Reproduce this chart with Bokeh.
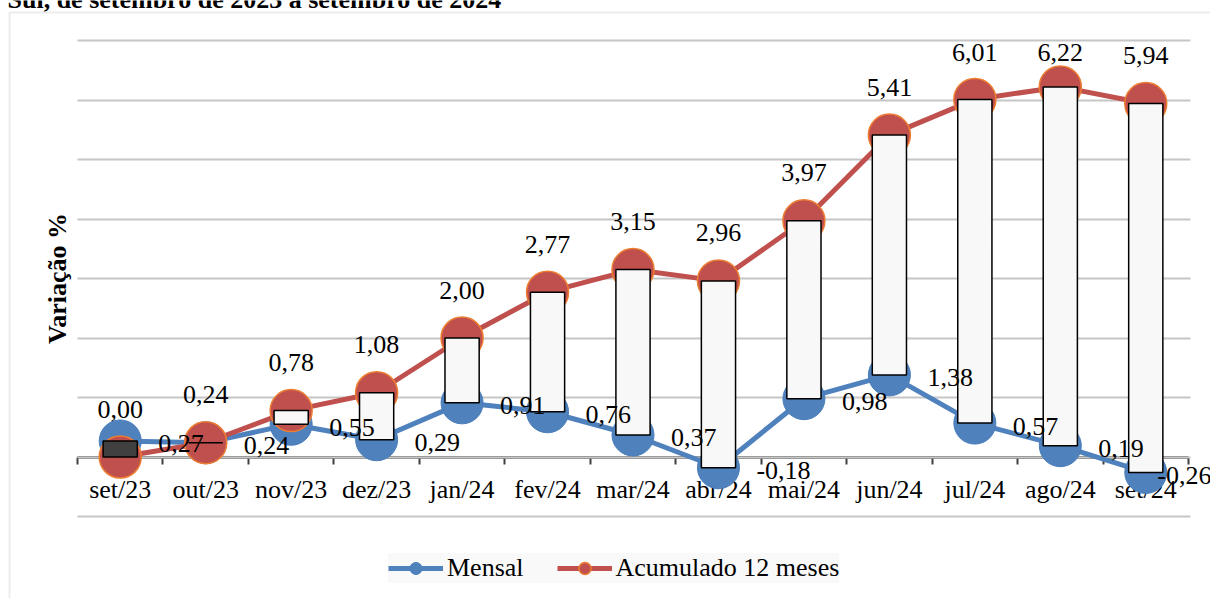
import math
from bokeh.plotting import figure
from bokeh.models import (ColumnDataSource, Range1d, LinearAxis, FixedTicker, LabelSet,
                          Label, Legend, LegendItem, BoxAnnotation)
from bokeh.core.properties import value
from bokeh.embed import file_html
from bokeh.resources import INLINE

# ---- data ----
categories = ["set/23", "out/23", "nov/23", "dez/23", "jan/24", "fev/24", "mar/24",
              "abr/24", "mai/24", "jun/24", "jul/24", "ago/24", "set/24"]
mensal = [0.27, 0.24, 0.55, 0.29, 0.91, 0.76, 0.37, -0.18, 0.98, 1.38, 0.57, 0.19, -0.26]
acumulado = [0.00, 0.24, 0.78, 1.08, 2.00, 2.77, 3.15, 2.96, 3.97, 5.41, 6.01, 6.22, 5.94]
y_ticks = [-1, 0, 1, 2, 3, 4, 5, 6, 7]
series_names = ["Mensal", "Acumulado 12 meses"]
title_text = "Sul, de setembro de 2023 a setembro de 2024"
y_label = "Variação %"

# ---- style / layout ----
FONT = "Liberation Serif"
FS = 26
BLUE = "#4f81bd"
RED = "#c0504d"
RED_EDGE = "#ed7d31"
GRID = "#c6c6c6"
AXIS = "#404040"
W, H = 1210, 598
PL, PR = 77, 1188            # plot-area left / right (px)
PT, PB = 40, 516             # pixel rows of the top / bottom gridlines

n = len(categories)
xc = list(range(n))
bounds = [i - 0.5 for i in range(n + 1)]
px_cat = (PR - PL) / n
px_unit = (PB - PT) / (y_ticks[-1] - y_ticks[0])
x_start = -0.5 - PL / px_cat
x_end = n - 0.5 + (W - PR) / px_cat
y_end = y_ticks[-1] + PT / px_unit
y_start = y_ticks[0] - (H - PB) / px_unit

def fmt(v):
    return f"{v:.2f}".replace(".", ",")

m_lab = [fmt(v) for v in mensal]
a_lab = [fmt(v) for v in acumulado]
top = [max(m, a) for m, a in zip(mensal, acumulado)]
bot = [min(m, a) for m, a in zip(mensal, acumulado)]
fill = ["#f8f8f8" if a >= m else "#404040" for m, a in zip(mensal, acumulado)]

# labels that would overflow the chart area are pushed back inside (as Excel does)
char_w = {"-": 0.333, ",": 0.25}
m_dx = []
for i, t in enumerate(m_lab):
    w = sum(char_w.get(ch, 0.5) for ch in t) * FS
    sx = PL + (i + 0.5) * px_cat
    m_dx.append(min(38, (W + 1) - w - sx))
a_dy = []
for v in acumulado:
    sy = PT + (y_ticks[-1] - v) * px_unit
    a_dy.append(min(48, sy - (PT + 12)))

src = ColumnDataSource(dict(x=xc, m=mensal, a=acumulado, top=top, bot=bot, fill=fill,
                            mlab=m_lab, alab=a_lab, mdx=m_dx, ady=a_dy))

p = figure(width=W, height=H, x_range=Range1d(x_start, x_end), y_range=Range1d(y_start, y_end),
           output_backend="svg", toolbar_location=None, x_axis_location=None,
           y_axis_location=None, min_border=0)
p.outline_line_color = None
p.background_fill_color = "white"
p.border_fill_color = "white"
p.xgrid.visible = False

g = p.ygrid[0]
g.ticker = FixedTicker(ticks=y_ticks)
g.grid_line_color = GRID
g.grid_line_width = 2
if "cross_bounds" in g.properties():
    g.cross_bounds = (-0.5, n - 0.5 + 2 / px_cat)
else:
    g.visible = False
    p.segment(x0=[-0.5] * len(y_ticks), x1=[n - 0.5 + 2 / px_cat] * len(y_ticks),
              y0=y_ticks, y1=y_ticks, line_color=GRID, line_width=2, level="underlay")

# category axis: labels at centers
lab_axis = LinearAxis(ticker=FixedTicker(ticks=xc),
                      major_label_overrides={i: c for i, c in zip(xc, categories)},
                      fixed_location=0, axis_line_color=None, major_tick_line_color=None,
                      minor_tick_line_color=None, major_label_standoff=12,
                      major_label_text_font=FONT, major_label_text_font_size=f"{FS}px",
                      major_label_text_color="black", level="underlay")
# category axis: line + ticks between categories (no labels)
tick_axis = LinearAxis(ticker=FixedTicker(ticks=bounds), fixed_location=0,
                       bounds=(bounds[0], bounds[-1]),
                       major_label_overrides={b: "" for b in bounds},
                       axis_line_color=AXIS, axis_line_width=2.5,
                       major_tick_line_color=AXIS, major_tick_line_width=2,
                       major_tick_out=7, major_tick_in=0, minor_tick_line_color=None,
                       major_label_standoff=0, level="underlay")
p.add_layout(lab_axis, "below")
p.add_layout(tick_axis, "below")

# series
bl = p.line("x", "m", source=src, line_color=BLUE, line_width=5)
bs = p.scatter("x", "m", source=src, size=42, fill_color=BLUE, line_color="#4a7ebb", line_width=1)
rl = p.line("x", "a", source=src, line_color=RED, line_width=5)
rs = p.scatter("x", "a", source=src, size=42, fill_color=RED, line_color=RED_EDGE, line_width=1.5)

# up/down bars
p.vbar(x="x", width=0.4, top="top", bottom="bot", fill_color="fill", line_color="black",
       line_width=1.5, source=src)

# data labels
p.add_layout(LabelSet(x="x", y="a", text="alab", source=src, text_align="center",
                      text_baseline="middle", y_offset="ady", text_font=value(FONT),
                      text_font_size=f"{FS}px", text_color="black"))
p.add_layout(LabelSet(x="x", y="m", text="mlab", source=src, text_align="left",
                      text_baseline="middle", x_offset="mdx", y_offset=-3,
                      text_font=value(FONT), text_font_size=f"{FS}px", text_color="black"))

# legend
legend = Legend(items=[LegendItem(label=series_names[0], renderers=[bl, bs]),
                       LegendItem(label=series_names[1], renderers=[rl, rs])],
                orientation="horizontal", location=(388, 15),
                glyph_width=55, glyph_height=30, label_standoff=4, spacing=33,
                padding=8, margin=0, background_fill_color="#f9f9f9",
                border_line_color=None, label_text_font=FONT,
                label_text_font_size=f"{FS}px", label_text_color="black")
p.add_layout(legend, "center")

# y axis title
p.add_layout(Label(x=56.5, y=H - 278, x_units="screen", y_units="screen", text=y_label,
                   angle=math.pi / 2, text_align="center", text_baseline="middle",
                   text_font=FONT, text_font_style="bold", text_font_size=f"{FS}px",
                   text_color="black"))

# chart border and title (cut off by the top edge, as in the source image)
p.add_layout(BoxAnnotation(left=9, right=W + 30, top=H - 12, bottom=-30,
                           left_units="screen", right_units="screen",
                           top_units="screen", bottom_units="screen",
                           fill_alpha=0, line_color="#bfbfbf", line_width=2))
p.add_layout(Label(x=7, y=H + 1, x_units="screen", y_units="screen", text=title_text,
                   text_font=FONT, text_font_style="bold", text_font_size=f"{FS}px",
                   text_baseline="alphabetic", text_align="left", text_color="black"))

open("out.html", "w").write(file_html(p, INLINE))
